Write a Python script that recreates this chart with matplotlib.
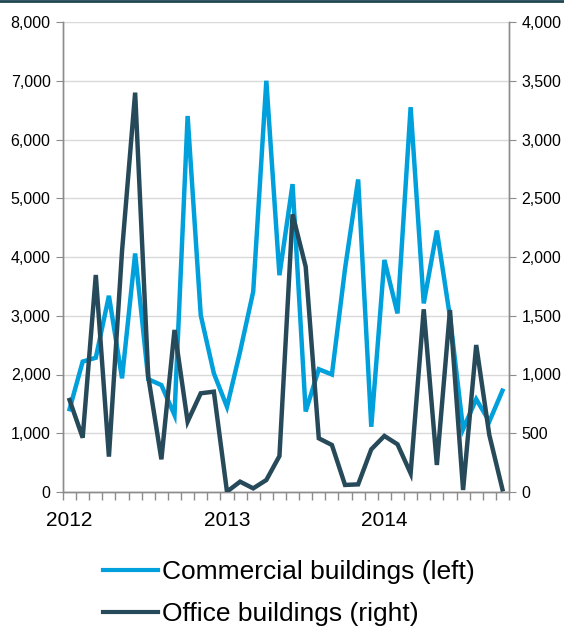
import numpy as np
import matplotlib
matplotlib.use("Agg")
import matplotlib.pyplot as plt
from matplotlib.lines import Line2D
from matplotlib.ticker import FuncFormatter

plt.rcParams['font.family'] = ['Liberation Sans', 'DejaVu Sans']

# monthly figures, Jan 2012 - Oct 2014
commercial = [1410, 2220, 2285, 3340, 1935, 4060, 1920, 1820, 1310, 6400, 3010, 2020,
              1450, 2390, 3410, 7000, 3690, 5240, 1370, 2090, 2000, 3800, 5320, 1110,
              3950, 3040, 6550, 3210, 4450, 2980, 1070, 1580, 1200, 1725]
office = [783, 462, 1847, 301, 2050, 3399, 981, 278, 1379, 599, 840, 854,
          3, 88, 31, 102, 306, 2363, 1918, 457, 400, 60, 65, 363,
          477, 406, 159, 1555, 230, 1549, 17, 1251, 485, 23]
year_labels = ['2012', '2013', '2014']

blue = '#00a0dc'
dark = '#274a5a'
spine = '#8c8c8c'

fig = plt.figure(figsize=(5.64, 6.29), dpi=100)
ax = fig.add_axes([63/564, 1 - 492/629, 446/564, 470/629])
ax2 = ax.twinx()

x = np.arange(len(commercial))
ax.plot(x, commercial, color=blue, lw=3.2, solid_joinstyle='miter', zorder=3)
ax2.plot(x, office, color=dark, lw=3.2, solid_joinstyle='miter', zorder=3)

ax.set_xlim(-0.5, len(x) - 0.5)
ax.set_ylim(0, 8000)
ax2.set_ylim(0, 4000)
ax.set_yticks(np.arange(0, 8001, 1000))
ax2.set_yticks(np.arange(0, 4001, 500))
fmt = FuncFormatter(lambda v, p: f'{int(v):,}')
ax.yaxis.set_major_formatter(fmt)
ax2.yaxis.set_major_formatter(fmt)

ax.set_xticks([0, 12, 24])
ax.set_xticklabels(year_labels, fontsize=15)
ax.set_xticks(np.arange(-0.5, len(x)), minor=True)
ax.tick_params(axis='x', which='major', length=0, pad=14)
ax.tick_params(axis='x', which='minor', length=6, color=spine, width=1)

ax.tick_params(axis='y', length=5, color=spine, labelsize=11.5, pad=4)
ax2.tick_params(axis='y', length=5, color=spine, labelsize=11.5, pad=4)

ax.grid(axis='y', color='#d9d9d9', lw=1)
ax.set_axisbelow(True)

for a in (ax, ax2):
    a.spines['top'].set_visible(False)
    for s in ('left', 'right', 'bottom'):
        a.spines[s].set_color(spine)
        a.spines[s].set_linewidth(1)

handles = [Line2D([], [], color=blue, lw=3), Line2D([], [], color=dark, lw=3)]
fig.legend(handles, ['Commercial buildings (left)', 'Office buildings (right)'],
           loc='upper center', bbox_to_anchor=(0.512, 1 - 536/629), frameon=False,
           fontsize=19, handlelength=2.1, handletextpad=0.15, labelspacing=0.7)

fig.add_artist(Line2D([0, 1], [1 - 1/629, 1 - 1/629], color='#1f4552', lw=2,
                      transform=fig.transFigure))

fig.savefig('out.png', dpi=100)
